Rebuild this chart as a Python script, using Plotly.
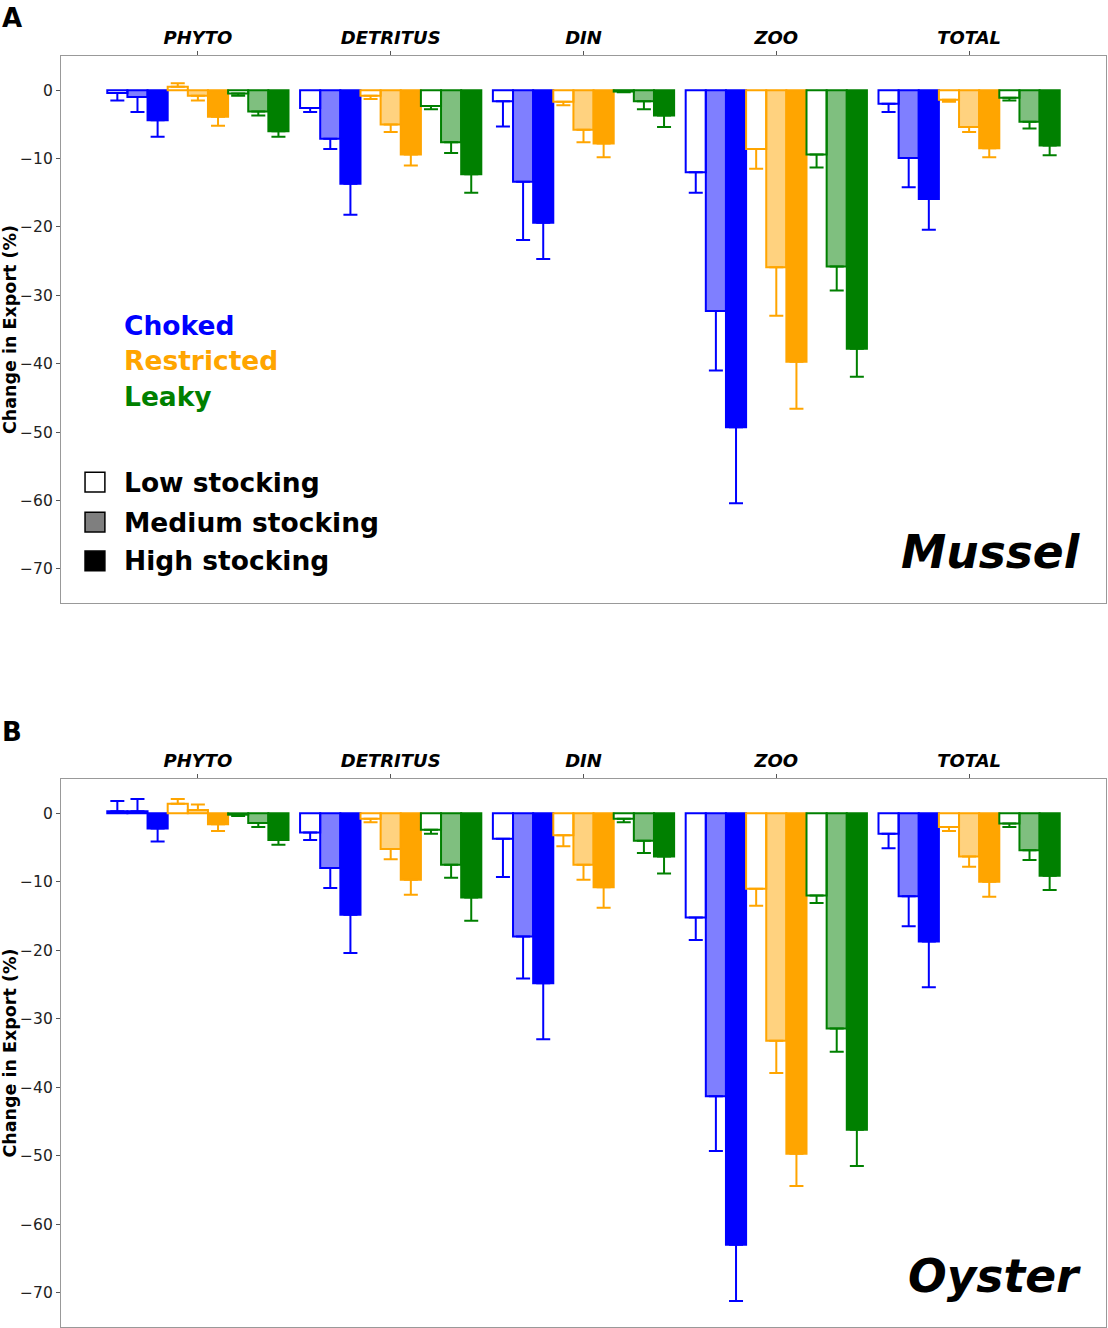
import plotly.graph_objects as go
from plotly.subplots import make_subplots

# ---------------------------------------------------------------------------
# data: bar value (%) and downward error (length) per category
# rows = low, medium, high stocking
# ---------------------------------------------------------------------------
categories = ["PHYTO", "DETRITUS", "DIN", "ZOO", "TOTAL"]
scenarios = ["Choked", "Restricted", "Leaky"]
stocking = ["Low stocking", "Medium stocking", "High stocking"]
y_ticks = [0, -10, -20, -30, -40, -50, -60, -70]

mussel_choked = [
    [-0.4, -2.6, -1.6, -12.0, -2.0],
    [-1.0, -7.1, -13.4, -32.3, -9.9],
    [-4.4, -13.7, -19.4, -49.3, -15.9],
]
mussel_choked_err = [
    [1.1, 0.6, 3.7, 3.0, 1.2],
    [2.2, 1.5, 8.5, 8.7, 4.3],
    [2.4, 4.5, 5.3, 11.1, 4.5],
]
mussel_restricted = [
    [0.5, -0.8, -1.7, -8.6, -1.4],
    [-0.8, -5.0, -5.8, -25.9, -5.4],
    [-3.9, -9.4, -7.8, -39.7, -8.5],
]
mussel_restricted_err = [
    [0.5, 0.5, 0.5, 2.9, 0.3],
    [0.7, 1.1, 1.8, 7.1, 0.7],
    [1.3, 1.6, 2.0, 6.9, 1.3],
]
mussel_leaky = [
    [-0.5, -2.3, -0.2, -9.4, -1.1],
    [-3.1, -7.6, -1.6, -25.8, -4.6],
    [-6.0, -12.3, -3.7, -37.8, -8.1],
]
mussel_leaky_err = [
    [0.3, 0.5, 0.1, 1.9, 0.4],
    [0.6, 1.6, 1.2, 3.5, 1.0],
    [0.8, 2.7, 1.7, 4.1, 1.4],
]

oyster_choked = [
    [0.3, -2.8, -3.7, -15.2, -3.0],
    [0.3, -8.0, -18.0, -41.3, -12.1],
    [-2.2, -14.8, -24.8, -63.0, -18.7],
]
oyster_choked_err = [
    [1.5, 1.1, 5.6, 3.3, 2.1],
    [1.8, 2.9, 6.1, 8.0, 4.4],
    [1.9, 5.6, 8.2, 8.2, 6.7],
]
oyster_restricted = [
    [1.4, -0.8, -3.2, -11.0, -2.0],
    [0.5, -5.2, -7.5, -33.2, -6.3],
    [-1.6, -9.7, -10.8, -49.7, -10.0],
]
oyster_restricted_err = [
    [0.7, 0.5, 1.6, 2.5, 0.6],
    [0.8, 1.5, 2.2, 4.7, 1.5],
    [1.0, 2.2, 3.0, 4.7, 2.2],
]
oyster_leaky = [
    [-0.2, -2.4, -0.8, -12.0, -1.5],
    [-1.4, -7.5, -4.0, -31.4, -5.4],
    [-3.9, -12.3, -6.3, -46.2, -9.1],
]
oyster_leaky_err = [
    [0.2, 0.6, 0.5, 1.1, 0.5],
    [0.6, 1.9, 1.8, 3.4, 1.4],
    [0.7, 3.4, 2.5, 5.3, 2.1],
]

# ---------------------------------------------------------------------------
# styling
# ---------------------------------------------------------------------------
FONT = "DejaVu Sans"
COLORS = {"Choked": (0, 0, 255), "Restricted": (255, 165, 0), "Leaky": (0, 128, 0)}
FILL_ALPHA = [0.0, 0.5, 1.0]  # low / medium / high stocking


def _fill(rgb, alpha):
    if alpha == 0:
        return "white"
    return f"rgba({rgb[0]},{rgb[1]},{rgb[2]},{alpha})"


panels = [
    ("Mussel", [mussel_choked, mussel_restricted, mussel_leaky],
     [mussel_choked_err, mussel_restricted_err, mussel_leaky_err]),
    ("Oyster", [oyster_choked, oyster_restricted, oyster_leaky],
     [oyster_choked_err, oyster_restricted_err, oyster_leaky_err]),
]

fig = make_subplots(rows=2, cols=1, vertical_spacing=0.1)

for row, (name, vals, errs) in enumerate(panels, start=1):
    for s, scen in enumerate(scenarios):
        rgb = COLORS[scen]
        col = f"rgb({rgb[0]},{rgb[1]},{rgb[2]})"
        for k in range(3):
            y = vals[s][k]
            e = errs[s][k]
            # error bars point away from zero
            plus = [ee if v > 0 else 0 for v, ee in zip(y, e)]
            minus = [ee if v <= 0 else 0 for v, ee in zip(y, e)]
            fig.add_trace(
                go.Bar(
                    x=categories,
                    y=y,
                    name=f"{scen} – {stocking[k]}",
                    marker=dict(color=_fill(rgb, FILL_ALPHA[k]),
                                line=dict(color=col, width=2)),
                    error_y=dict(type="data", symmetric=False, array=plus,
                                 arrayminus=minus, color=col, thickness=2,
                                 width=7),
                    showlegend=False,
                ),
                row=row, col=1,
            )

# ----- axes --------------------------------------------------------------
fig.update_yaxes(domain=[0.5696, 1.0], row=1, col=1)
fig.update_yaxes(domain=[0.0, 0.4311], row=2, col=1)

fig.update_xaxes(
    side="top",
    tickvals=categories,
    ticktext=[f"<b><i>{c}</i></b>" for c in categories],
    tickfont=dict(family=FONT, size=18, color="black"),
    ticks="outside", ticklen=4, tickcolor="#555",
    showline=True, mirror=True, linecolor="#999", linewidth=1.2,
    showgrid=False, range=[-0.71, 4.71],
)
fig.update_yaxes(
    range=[-75, 5],
    tickvals=y_ticks,
    tickfont=dict(family=FONT, size=15.5, color="#222"),
    ticks="outside", ticklen=4, tickcolor="#555",
    showline=True, mirror=True, linecolor="#999", linewidth=1.2,
    showgrid=False, zeroline=False,
    title=dict(text="<b>Change in Export (%)</b>",
               font=dict(family=FONT, size=17.5, color="black"), standoff=3),
)

# ----- annotations -------------------------------------------------------
ann = []
for label, y in [("A", 1.030), ("B", 0.468)]:
    ann.append(dict(text=f"<b>{label}</b>", xref="paper", yref="paper",
                    x=-0.058, y=y, xanchor="left", yanchor="middle",
                    showarrow=False, font=dict(family=FONT, size=26, color="black")))

for name, axn in [("Mussel", ""), ("Oyster", "2")]:
    ann.append(dict(text=f"<b><i>{name}</i></b>", xref=f"x{axn} domain",
                    yref=f"y{axn} domain", x=0.978, y=0.092,
                    xanchor="right", yanchor="middle", showarrow=False,
                    font=dict(family=FONT, size=45.5, color="black")))

for scen, y in zip(scenarios, [0.508, 0.444, 0.378]):
    rgb = COLORS[scen]
    ann.append(dict(text=f"<b>{scen}</b>", xref="x domain", yref="y domain",
                    x=0.0584, y=y, xanchor="left", yanchor="middle",
                    showarrow=False,
                    font=dict(family=FONT, size=26.5,
                              color=f"rgb({rgb[0]},{rgb[1]},{rgb[2]})")))

shapes = []
for k, (lab, y) in enumerate(zip(stocking, [0.221, 0.148, 0.077])):
    ann.append(dict(text=f"<b>{lab}</b>", xref="x domain", yref="y domain",
                    x=0.0584, y=y, xanchor="left", yanchor="middle",
                    showarrow=False, font=dict(family=FONT, size=26.5, color="black")))
    shapes.append(dict(type="rect", xref="x domain", yref="y domain",
                       x0=0.023, x1=0.042, y0=y - 0.018, y1=y + 0.018,
                       fillcolor=_fill((0, 0, 0), FILL_ALPHA[k]),
                       line=dict(color="black", width=1.5)))

fig.update_layout(
    width=1108, height=1328,
    margin=dict(l=61, r=2, t=56, b=1),
    barmode="group", bargap=0.06, bargroupgap=0,
    plot_bgcolor="white", paper_bgcolor="white",
    annotations=ann, shapes=shapes,
    font=dict(family=FONT),
)

# drop the browser's default 8px body margin so the figure fills the window
fig.write_html("out.html",
               config={"displayModeBar": False},
               post_script="document.body.style.margin='0';"
                           "document.body.style.overflow='hidden';")
